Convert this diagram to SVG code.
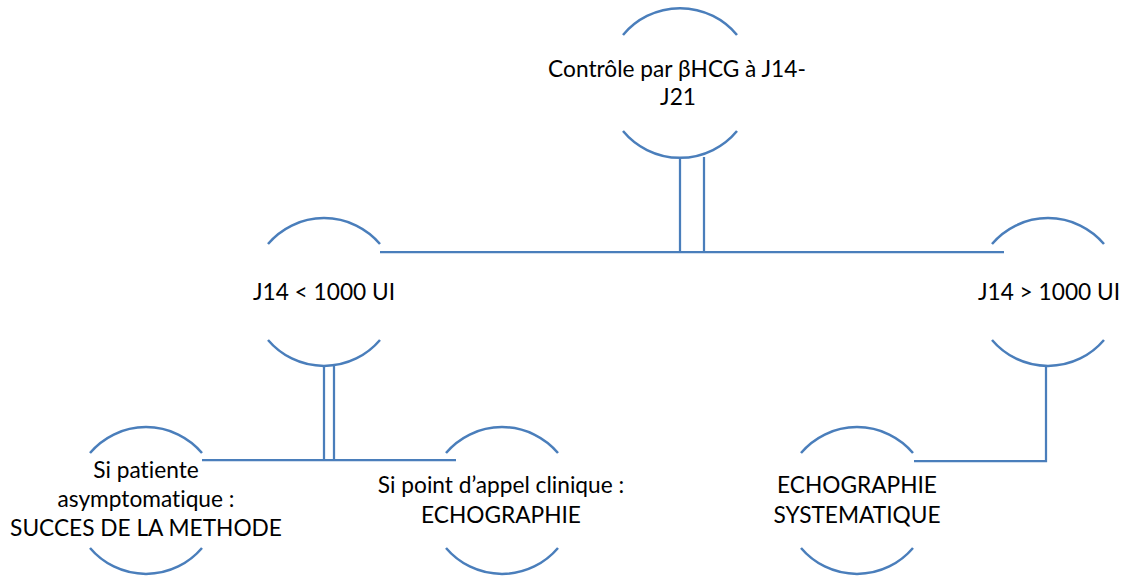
<svg xmlns="http://www.w3.org/2000/svg" width="1126" height="577" viewBox="0 0 1126 577">
<style>
.arc{fill:none;stroke:#4a7ebb;stroke-width:2.5}
.con{fill:none;stroke:#4a7ebb;stroke-width:2.25}
text{font-family:Lato,"Open Sans","Liberation Sans",sans-serif;font-size:22.7px;fill:#000;text-anchor:middle;font-variant-ligatures:none}
</style>
<rect width="1126" height="577" fill="#fff"/>
<g id="connectors">
<path class="con" d="M680 157V252M704 157V252M380 252H1004"/>
<path class="con" d="M324 365V460M334 365V460M202 460H456"/>
<path class="con" d="M1046 365V461H914"/>
</g>
<g id="node-top">
<path class="arc" d="M623 35A74 74 0 0 1 737 35M623 131A74 74 0 0 0 737 131"/>
<text x="677" y="77">Contrôle par βHCG à J14-</text>
<text x="678" y="105">J21</text>
</g>
<g id="node-low">
<path class="arc" d="M268 244A73.5 73.5 0 0 1 380 244M268 340A73.5 73.5 0 0 0 380 340"/>
<text x="324" y="300">J14 &lt; 1000 UI</text>
</g>
<g id="node-high">
<path class="arc" d="M992 244A73.5 73.5 0 0 1 1104 244M992 340A73.5 73.5 0 0 0 1104 340"/>
<text x="1049" y="300">J14 &gt; 1000 UI</text>
</g>
<g id="node-asympto">
<path class="arc" d="M90 453A73.5 73.5 0 0 1 202 453M90 548A73.5 73.5 0 0 0 202 548"/>
<text x="146" y="478">Si patiente</text>
<text x="146" y="507">asymptomatique :</text>
<text x="146" y="536">SUCCES DE LA METHODE</text>
</g>
<g id="node-clinique">
<path class="arc" d="M446 453A73.5 73.5 0 0 1 558 453M446 548A73.5 73.5 0 0 0 558 548"/>
<text x="501" y="493">Si point d’appel clinique :</text>
<text x="501" y="523">ECHOGRAPHIE</text>
</g>
<g id="node-echo">
<path class="arc" d="M801 453A73.5 73.5 0 0 1 913 453M801 548A73.5 73.5 0 0 0 913 548"/>
<text x="857" y="493">ECHOGRAPHIE</text>
<text x="857" y="523">SYSTEMATIQUE</text>
</g>
</svg>
